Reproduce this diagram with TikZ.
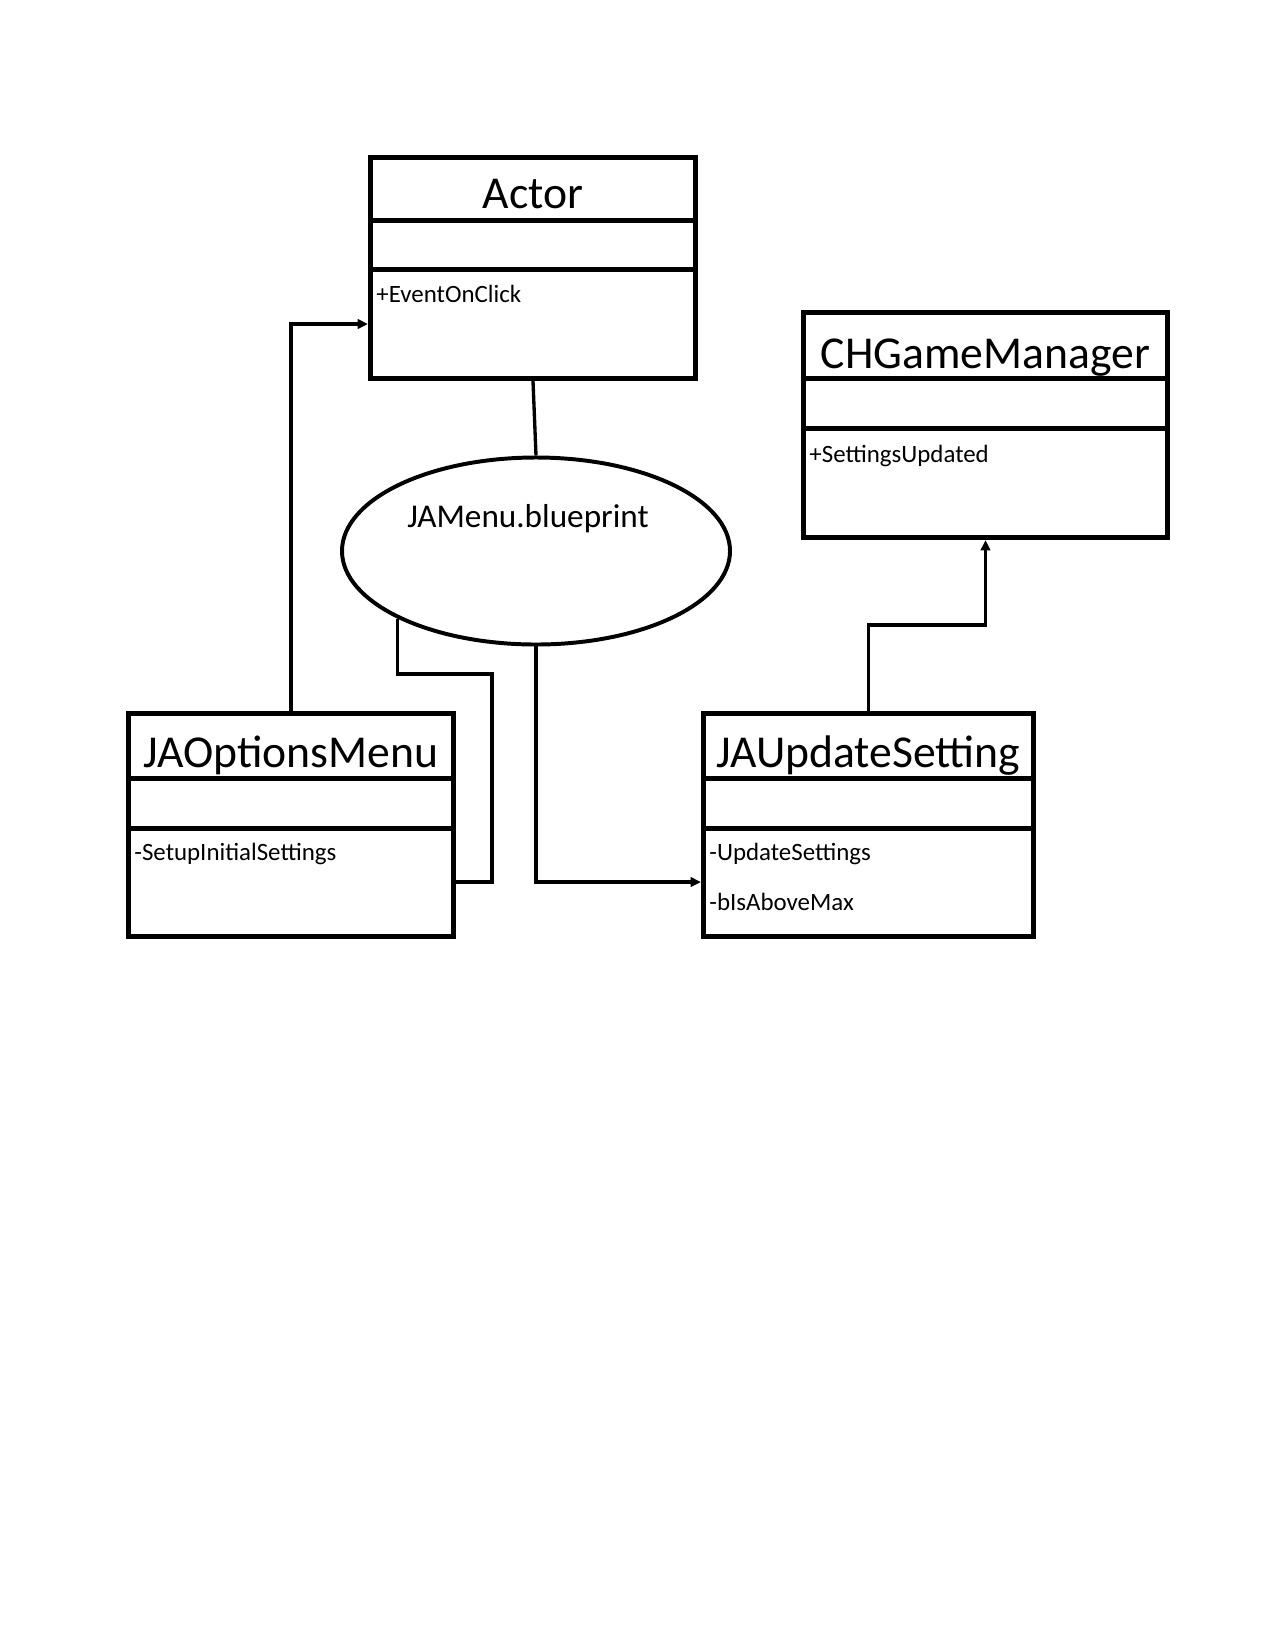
\documentclass[tikz,border=0pt]{standalone}
\usepackage{fontspec}
\setmainfont{Carlito}
\usetikzlibrary{arrows.meta,shapes.geometric}

\tikzset{
  classbox/.style={draw, line width=2.4bp, inner sep=0pt, anchor=north west},
  classline/.style={line width=2.4bp},
  classtitle/.style={anchor=base, inner sep=0pt, font=\fontsize{22}{26}\selectfont},
  member/.style={anchor=base west, inner sep=0pt, font=\fontsize{12}{14}\selectfont},
  conn/.style={line width=1.6bp},
  arr/.style={conn, -{Triangle[length=5bp,width=4.5bp]}},
}

\begin{document}
\begin{tikzpicture}[x=0.48bp,y=-0.48bp]
\useasboundingbox (0,0) rectangle (1275,1650);
% class boxes
\node[classbox, minimum width=325*0.48bp, minimum height=221*0.48bp] (actor) at (368,155) {};
\draw[classline] (actor.west |- 0,220) -- (actor.east |- 0,220);
\draw[classline] (actor.west |- 0,269) -- (actor.east |- 0,269);
\node[classtitle] (actortitle) at (actor.north |- 0,208) {Actor};
\node[member] (eventonclick) at (376,302) {+EventOnClick};

\node[classbox, minimum width=364*0.48bp, minimum height=225*0.48bp] (chgm) at (801,310) {};
\draw[classline] (chgm.west |- 0,378) -- (chgm.east |- 0,378);
\draw[classline] (chgm.west |- 0,428) -- (chgm.east |- 0,428);
\node[classtitle] (chgmtitle) at (chgm.north |- 0,368) {CHGameManager};
\node[member] (settingsupdated) at (809,462) {+SettingsUpdated};

\node[classbox, minimum width=325*0.48bp, minimum height=223*0.48bp] (jao) at (126,711) {};
\draw[classline] (jao.west |- 0,778) -- (jao.east |- 0,778);
\draw[classline] (jao.west |- 0,828) -- (jao.east |- 0,828);
\node[classtitle] (jaotitle) at (jao.north |- 0,767) {JAOptionsMenu};
\node[member] (setupinitial) at (134,860) {-SetupInitialSettings};

\node[classbox, minimum width=330*0.48bp, minimum height=223*0.48bp] (jau) at (701,711) {};
\draw[classline] (jau.west |- 0,778) -- (jau.east |- 0,778);
\draw[classline] (jau.west |- 0,828) -- (jau.east |- 0,828);
\node[classtitle] (jautitle) at (jau.north |- 0,767) {JAUpdateSetting};
\node[member] (updatesettings) at (709,860) {-UpdateSettings};
\node[member] (isabovemax) at (709,910) {-bIsAboveMax};

% blueprint
\node[ellipse, draw, line width=1.9bp, inner sep=0pt,
  minimum width=388*0.48bp, minimum height=187*0.48bp] (blueprint) at (536,551) {};
\node[anchor=base, inner sep=0pt, font=\fontsize{16}{19}\selectfont] (blueprinttext) at (528,527) {JAMenu.blueprint};

% connectors
\draw[conn] (actor.south) -- (blueprint.north);
\draw[arr] (jao.north) |- (actor.west |- 0,324);
\draw[conn] (blueprint.south west) |- (492,674) |- (jao.east |- 0,882);
\draw[arr] (blueprint.south) |- (jau.west |- 0,882);
\draw[arr] (jau.north) |- (chgm.south |- 0,625) -- (chgm.south);
\end{tikzpicture}
\end{document}
